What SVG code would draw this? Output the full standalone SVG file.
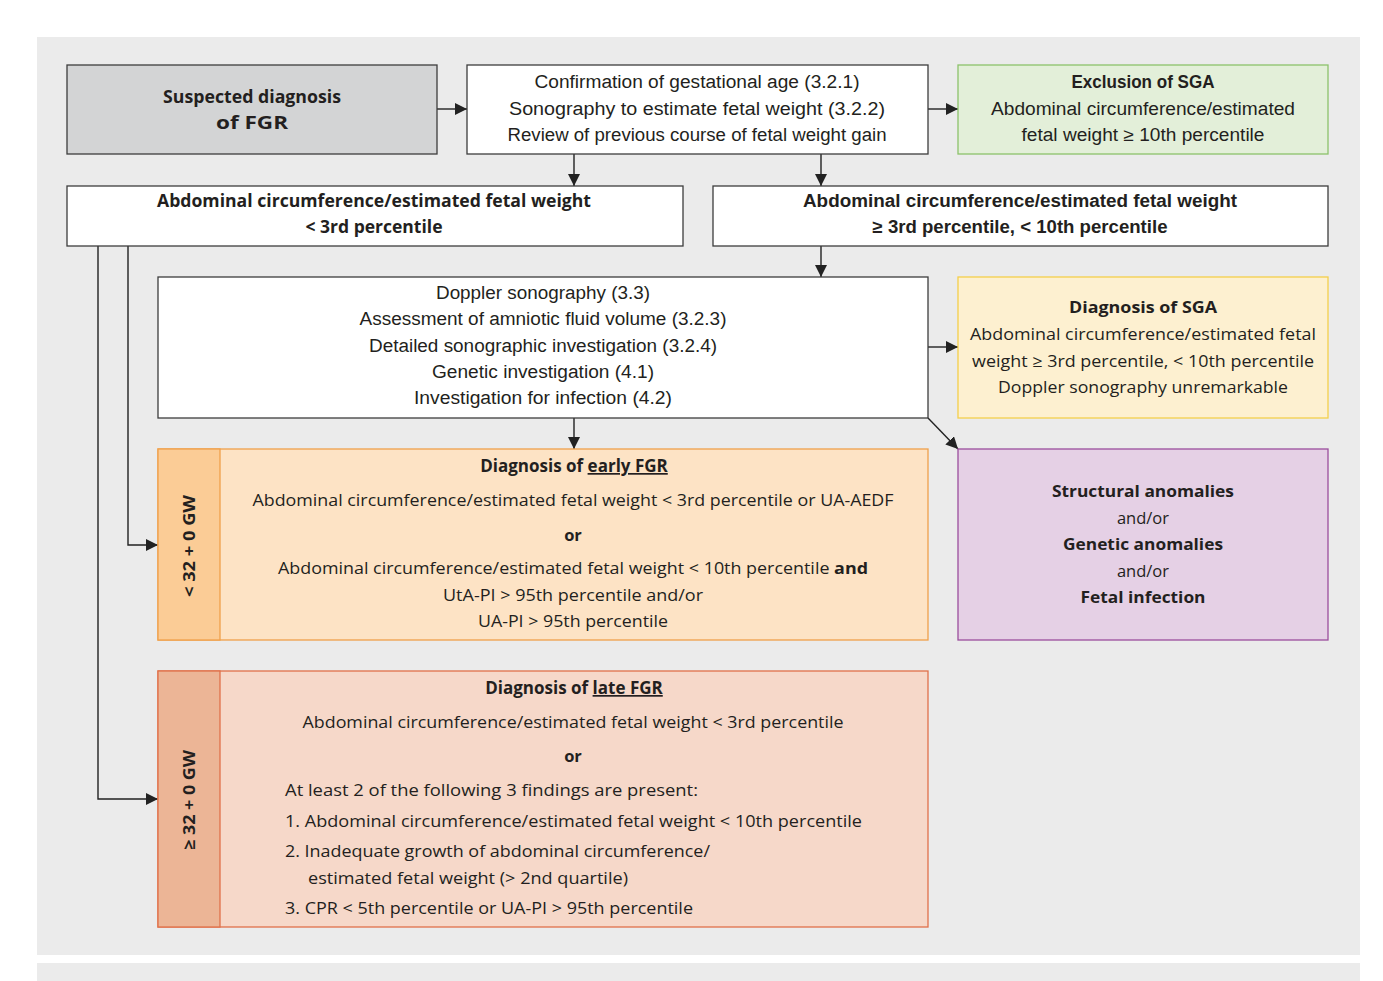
<svg xmlns="http://www.w3.org/2000/svg" width="1383" height="981" viewBox="0 0 1383 981">
<defs>
<marker id="ah" viewBox="0 0 12 12" refX="12" refY="6" markerWidth="12" markerHeight="12" markerUnits="userSpaceOnUse" orient="auto">
<path d="M0,0 L12,6 L0,12 Z" fill="#222"/>
</marker>
<style>
.box{stroke:#3d3d3d;stroke-width:1.3}
.w{font-family:"Open Sans","Liberation Sans",sans-serif;font-size:16.5px;fill:#231f20}
.c{font-family:"Liberation Sans Narrow","Liberation Sans",sans-serif;font-size:18px;fill:#231f20}
.b{font-weight:bold}
.m{text-anchor:middle}
.con{stroke:#222;stroke-width:1.4;fill:none}
</style>
</defs>
<rect x="0" y="0" width="1383" height="981" fill="#ffffff"/>
<rect x="37" y="37" width="1323" height="918" fill="#ebebeb"/>
<rect x="37" y="963" width="1323" height="18" fill="#ebebeb"/>

<g id="connectors">
<line class="con" x1="437" y1="109" x2="467" y2="109" marker-end="url(#ah)"/>
<line class="con" x1="928" y1="109" x2="958" y2="109" marker-end="url(#ah)"/>
<line class="con" x1="574" y1="154" x2="574" y2="186" marker-end="url(#ah)"/>
<line class="con" x1="821" y1="154" x2="821" y2="186" marker-end="url(#ah)"/>
<line class="con" x1="821" y1="246" x2="821" y2="277" marker-end="url(#ah)"/>
<line class="con" x1="928" y1="347" x2="958" y2="347" marker-end="url(#ah)"/>
<line class="con" x1="574" y1="418" x2="574" y2="449" marker-end="url(#ah)"/>
<line class="con" x1="928" y1="418" x2="958" y2="449" marker-end="url(#ah)"/>
<polyline class="con" points="128,246 128,545 158,545" marker-end="url(#ah)"/>
<polyline class="con" points="98,246 98,799 158,799" marker-end="url(#ah)"/>
</g>

<g id="suspected">
<rect class="box" x="67" y="65" width="370" height="89" fill="#d3d4d5"/>
<text class="w b m" x="252" y="103" style="font-size:18px" textLength="178" lengthAdjust="spacingAndGlyphs">Suspected diagnosis</text>
<text class="w b m" x="252" y="129" style="font-size:18px" textLength="72" lengthAdjust="spacingAndGlyphs">of FGR</text>
</g>

<g id="confirmation">
<rect class="box" x="467" y="65" width="461" height="89" fill="#ffffff"/>
<text class="c m" x="697" y="88" textLength="325" lengthAdjust="spacingAndGlyphs">Confirmation of gestational age (3.2.1)</text>
<text class="c m" x="697" y="115" textLength="376" lengthAdjust="spacingAndGlyphs">Sonography to estimate fetal weight  (3.2.2)</text>
<text class="c m" x="697" y="141" textLength="379" lengthAdjust="spacingAndGlyphs">Review of previous course of fetal weight gain</text>
</g>

<g id="exclusion-sga">
<rect x="958" y="65" width="370" height="89" fill="#e3efd9" stroke="#8dc26b" stroke-width="1.3"/>
<text class="c b m" x="1143" y="88" textLength="143" lengthAdjust="spacingAndGlyphs">Exclusion of SGA</text>
<text class="c m" x="1143" y="115" textLength="304" lengthAdjust="spacingAndGlyphs">Abdominal circumference/estimated</text>
<text class="c m" x="1143" y="141" textLength="243" lengthAdjust="spacingAndGlyphs">fetal weight ≥ 10th percentile</text>
</g>

<g id="abd-lt3">
<rect class="box" x="67" y="186" width="616" height="60" fill="#ffffff"/>
<text class="w b m" x="374" y="207" style="font-size:17px" textLength="434" lengthAdjust="spacingAndGlyphs">Abdominal circumference/estimated fetal weight</text>
<text class="w b m" x="374" y="233" style="font-size:17px" textLength="137" lengthAdjust="spacingAndGlyphs">&lt; 3rd percentile</text>
</g>

<g id="abd-3to10">
<rect class="box" x="713" y="186" width="615" height="60" fill="#ffffff"/>
<text class="c b m" x="1020" y="207" textLength="434" lengthAdjust="spacingAndGlyphs">Abdominal circumference/estimated fetal weight</text>
<text class="c b m" x="1020" y="233" textLength="295" lengthAdjust="spacingAndGlyphs">≥ 3rd percentile, &lt; 10th percentile</text>
</g>

<g id="doppler">
<rect class="box" x="158" y="277" width="770" height="141" fill="#ffffff"/>
<text class="c m" x="543" y="299" textLength="214" lengthAdjust="spacingAndGlyphs">Doppler sonography (3.3)</text>
<text class="c m" x="543" y="325" textLength="367" lengthAdjust="spacingAndGlyphs">Assessment of amniotic fluid volume (3.2.3)</text>
<text class="c m" x="543" y="352" textLength="348" lengthAdjust="spacingAndGlyphs">Detailed sonographic investigation (3.2.4)</text>
<text class="c m" x="543" y="378" textLength="222" lengthAdjust="spacingAndGlyphs">Genetic investigation (4.1)</text>
<text class="c m" x="543" y="404" textLength="258" lengthAdjust="spacingAndGlyphs">Investigation for infection (4.2)</text>
</g>

<g id="diagnosis-sga">
<rect x="958" y="277" width="370" height="141" fill="#fdf0d0" stroke="#f5cf4a" stroke-width="1.3"/>
<text class="w b m" x="1143" y="313" textLength="148" lengthAdjust="spacingAndGlyphs">Diagnosis of SGA</text>
<text class="w m" x="1143" y="340" textLength="346" lengthAdjust="spacingAndGlyphs">Abdominal circumference/estimated fetal</text>
<text class="w m" x="1143" y="367" textLength="342" lengthAdjust="spacingAndGlyphs">weight ≥ 3rd percentile, &lt; 10th percentile</text>
<text class="w m" x="1143" y="393" textLength="290" lengthAdjust="spacingAndGlyphs">Doppler sonography unremarkable</text>
</g>

<g id="structural">
<rect x="958" y="449" width="370" height="191" fill="#e5d0e5" stroke="#9b4e9d" stroke-width="1.3"/>
<text class="w b m" x="1143" y="497" textLength="182" lengthAdjust="spacingAndGlyphs">Structural anomalies</text>
<text class="w m" x="1143" y="524">and/or</text>
<text class="w b m" x="1143" y="550" textLength="160" lengthAdjust="spacingAndGlyphs">Genetic anomalies</text>
<text class="w m" x="1143" y="577">and/or</text>
<text class="w b m" x="1143" y="603" textLength="125" lengthAdjust="spacingAndGlyphs">Fetal infection</text>
</g>

<g id="early-fgr">
<rect x="158" y="449" width="770" height="191" fill="#fde3c5" stroke="#f0a04b" stroke-width="1.3"/>
<rect x="158" y="449" width="62" height="191" fill="#fbcc96" stroke="#f0a04b" stroke-width="1.3"/>
<text class="w b m" transform="translate(195,546) rotate(-90)" textLength="102" lengthAdjust="spacingAndGlyphs">&lt; 32 + 0 GW</text>
<text class="w b m" x="574" y="472" style="font-size:17px"><tspan>Diagnosis of </tspan><tspan text-decoration="underline">early FGR</tspan></text>
<text class="w m" x="573" y="506" textLength="641" lengthAdjust="spacingAndGlyphs">Abdominal circumference/estimated fetal weight &lt; 3rd percentile or UA-AEDF</text>
<text class="w b m" x="573" y="541">or</text>
<text class="w m" x="573" y="574" textLength="590" lengthAdjust="spacingAndGlyphs">Abdominal circumference/estimated fetal weight &lt; 10th percentile <tspan font-weight="bold">and</tspan></text>
<text class="w m" x="573" y="601" textLength="260" lengthAdjust="spacingAndGlyphs">UtA-PI &gt; 95th percentile and/or</text>
<text class="w m" x="573" y="627" textLength="190" lengthAdjust="spacingAndGlyphs">UA-PI &gt; 95th percentile</text>
</g>

<g id="late-fgr">
<rect x="158" y="671" width="770" height="256" fill="#f6d8c9" stroke="#e0714a" stroke-width="1.3"/>
<rect x="158" y="671" width="62" height="256" fill="#ecb596" stroke="#e0714a" stroke-width="1.3"/>
<text class="w b m" transform="translate(195,800) rotate(-90)" textLength="100" lengthAdjust="spacingAndGlyphs">≥ 32 + 0 GW</text>
<text class="w b m" x="574" y="694" style="font-size:17px"><tspan>Diagnosis of </tspan><tspan text-decoration="underline">late FGR</tspan></text>
<text class="w m" x="573" y="728" textLength="541" lengthAdjust="spacingAndGlyphs">Abdominal circumference/estimated fetal weight &lt; 3rd percentile</text>
<text class="w b m" x="573" y="762">or</text>
<text class="w" x="285" y="796" textLength="413" lengthAdjust="spacingAndGlyphs">At least 2 of the following 3 findings are present:</text>
<text class="w" x="285" y="827" textLength="577" lengthAdjust="spacingAndGlyphs">1. Abdominal circumference/estimated fetal weight &lt; 10th percentile</text>
<text class="w" x="285" y="857" textLength="425" lengthAdjust="spacingAndGlyphs">2. Inadequate growth of abdominal circumference/</text>
<text class="w" x="308" y="884" textLength="320" lengthAdjust="spacingAndGlyphs">estimated fetal weight (&gt; 2nd quartile)</text>
<text class="w" x="285" y="914" textLength="408" lengthAdjust="spacingAndGlyphs">3. CPR &lt; 5th percentile or UA-PI &gt; 95th percentile</text>
</g>
</svg>
